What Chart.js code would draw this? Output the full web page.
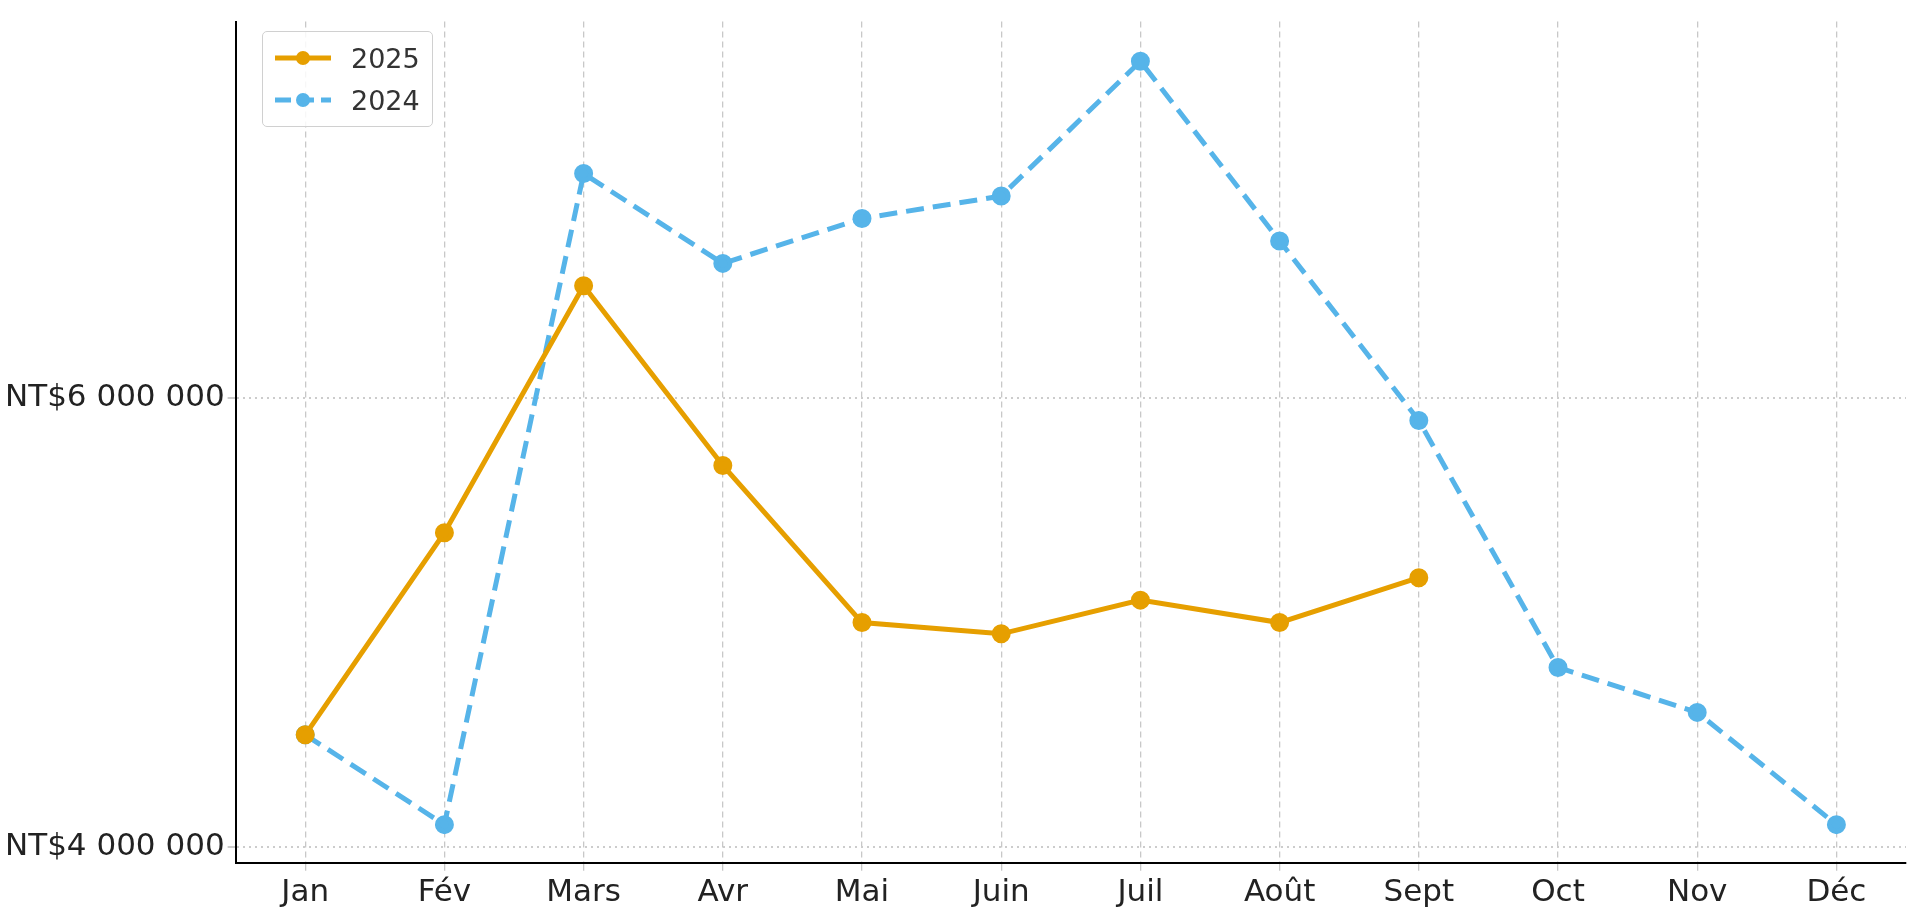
<!DOCTYPE html>
<html>
<head>
<meta charset="utf-8">
<script src="https://cdn.jsdelivr.net/npm/chart.js@4/dist/chart.umd.min.js"></script>
<style>
  html, body { margin: 0; padding: 0; background: #fff; }
  #wrap { position: relative; width: 1925px; height: 920px; }
  #legend {
    position: absolute; left: 262px; top: 31px;
    border: 1.5px solid #d0d0d0; border-radius: 5px; background: rgba(255,255,255,0.85);
    padding: 5px 12px 5px 10px; font-family: "DejaVu Sans", sans-serif; font-size: 27px; color: #333;
  }
  .item { display: flex; align-items: center; height: 42px; }
  .item svg { margin-right: 18px; }
</style>
</head>
<body>
<div id="wrap">
  <canvas id="chart" width="1925" height="920"></canvas>
  <div id="legend">
    <div class="item"><svg width="60" height="20"><line x1="2" y1="10" x2="58" y2="10" stroke="#E69F00" stroke-width="5"/><circle cx="30" cy="10" r="7" fill="#E69F00"/></svg>2025</div>
    <div class="item"><svg width="60" height="20"><line x1="2" y1="10" x2="58" y2="10" stroke="#56B4E9" stroke-width="5" stroke-dasharray="16,7"/><circle cx="30" cy="10" r="7" fill="#56B4E9"/></svg>2024</div>
  </div>
</div>
<script>
const months = ["Jan", "Fév", "Mars", "Avr", "Mai", "Juin", "Juil", "Août", "Sept", "Oct", "Nov", "Déc"];
const sales2025 = [4500000, 5400000, 6500000, 5700000, 5000000, 4950000, 5100000, 5000000, 5200000, null, null, null];
const sales2024 = [4500000, 4100000, 7000000, 6600000, 6800000, 6900000, 7500000, 6700000, 5900000, 4800000, 4600000, 4100000];
const yTicks = [4000000, 6000000];

function formatNT(v) {
  return "NT$" + String(v).replace(/\B(?=(\d{3})+(?!\d))/g, " ");
}

new Chart(document.getElementById("chart").getContext("2d"), {
  type: "line",
  data: {
    labels: months,
    datasets: [
      {
        label: "2025",
        data: sales2025,
        borderColor: "#E69F00",
        backgroundColor: "#E69F00",
        borderWidth: 5,
        pointRadius: 7,
        pointHoverRadius: 7,
        tension: 0,
      },
      {
        label: "2024",
        data: sales2024,
        borderColor: "#56B4E9",
        backgroundColor: "#56B4E9",
        borderWidth: 5,
        borderDash: [18, 9],
        pointRadius: 7,
        pointHoverRadius: 7,
        tension: 0,
      },
    ],
  },
  options: {
    responsive: false,
    animation: false,
    layout: { padding: { top: 17, right: 19, left: 2, bottom: 4 } },
    plugins: { legend: { display: false }, tooltip: { enabled: false } },
    scales: {
      x: {
        offset: true,
        grid: { color: "#c8c8c8", lineWidth: 1.3, tickLength: 8 },
        border: { color: "#000", width: 2, dash: [6, 4] },
        ticks: { color: "#222", font: { family: "DejaVu Sans", size: 31 }, padding: 4 },
      },
      y: {
        min: 3930000,
        max: 7677000,
        afterBuildTicks: (axis) => { axis.ticks = yTicks.map((v) => ({ value: v })); },
        grid: { color: "#cccccc", lineWidth: 2, tickLength: 8 },
        border: { color: "#000", width: 2, dash: [2, 4] },
        ticks: { color: "#222", font: { family: "DejaVu Sans", size: 31 }, callback: (v) => formatNT(v) },
      },
    },
  },
});
</script>
</body>
</html>
